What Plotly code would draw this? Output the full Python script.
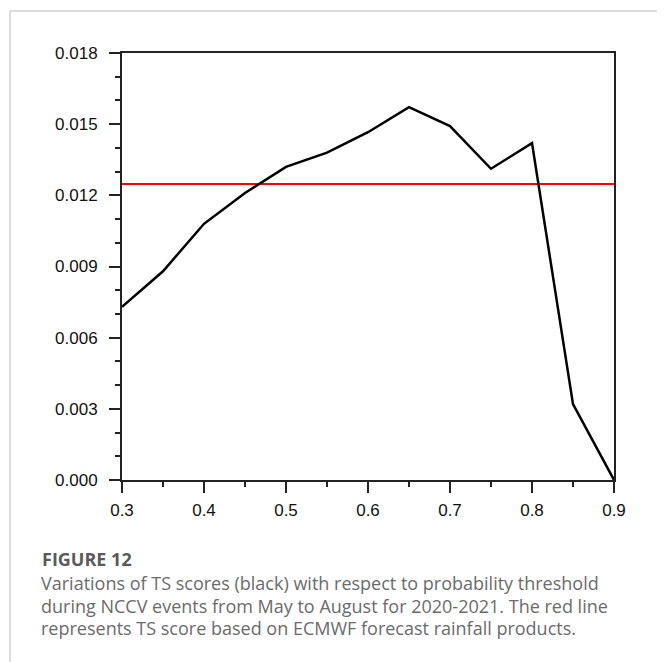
import plotly.graph_objects as go

thresholds = [0.3, 0.35, 0.4, 0.45, 0.5, 0.55, 0.6, 0.65, 0.7, 0.75, 0.8, 0.85, 0.9]
ts_scores = [0.0073, 0.0088, 0.0108, 0.0121, 0.0132, 0.0138, 0.01466, 0.01572, 0.01492, 0.01312, 0.0142, 0.0032, 0.0]
ecmwf_ts = 0.01248
x_ticks = [0.3, 0.4, 0.5, 0.6, 0.7, 0.8, 0.9]
y_ticks = [0.0, 0.003, 0.006, 0.009, 0.012, 0.015, 0.018]

caption_title = "FIGURE 12"
caption_lines = [
    "Variations of TS scores (black) with respect to probability threshold",
    "during NCCV events from May to August for 2020-2021. The red line",
    "represents TS score based on ECMWF forecast rainfall products.",
]

# page body has an 8px margin; figure is sized to fit the window
OFF = 8
W, H = 665 - OFF, 662 - OFF
# target plot-area box in window pixels
PL, PR, PT, PB = 122, 614, 53, 480
L, R, T, B = PL - OFF, W - (PR - OFF), PT - OFF, H - (PB - OFF)
pw, ph = W - L - R, H - T - B

def px_x(x):
    # window pixel -> paper coordinate
    return (x - OFF - L) / pw

def px_y(y):
    return (H - B - (y - OFF)) / ph

fig = go.Figure()
fig.add_trace(go.Scatter(
    x=[thresholds[0], thresholds[-1]], y=[ecmwf_ts, ecmwf_ts],
    mode="lines", line=dict(color="#ff0000", width=2), hoverinfo="skip", showlegend=False))
fig.add_trace(go.Scatter(
    x=thresholds, y=ts_scores, mode="lines",
    line=dict(color="#000000", width=2.5), showlegend=False))

axis_common = dict(
    showline=True, linecolor="#222222", linewidth=2, mirror=True,
    ticks="outside", ticklen=11, tickwidth=1.5, tickcolor="#222222",
    showgrid=False, zeroline=False,
    tickfont=dict(family="Liberation Sans, Arial, sans-serif", size=17, color="#111111"),
)

fig.update_xaxes(
    range=[0.3, 0.9], tickvals=x_ticks, ticktext=[f"{v:.1f}" for v in x_ticks],
    minor=dict(dtick=0.05, tick0=0.3, ticks="outside", ticklen=5, tickwidth=1.5, tickcolor="#222222"),
    ticklabelstandoff=3,
    **axis_common)
fig.update_yaxes(
    range=[0, 0.018], tickvals=y_ticks, ticktext=[f"{v:.3f}" for v in y_ticks],
    minor=dict(dtick=0.001, tick0=0, ticks="outside", ticklen=5, tickwidth=1.5, tickcolor="#222222"),
    ticklabelstandoff=8,
    **axis_common)

shapes = [
    dict(type="line", xref="paper", yref="paper",
         x0=px_x(10), x1=px_x(680), y0=px_y(11), y1=px_y(11),
         line=dict(color="#d0d0d0", width=1.5)),
    dict(type="line", xref="paper", yref="paper",
         x0=px_x(10), x1=px_x(10), y0=px_y(11), y1=px_y(680),
         line=dict(color="#d0d0d0", width=1.5)),
]

annotations = [dict(
    xref="paper", yref="paper", x=px_x(40), y=px_y(558.5), xanchor="left", yanchor="middle",
    text="<b>" + caption_title + "</b>", showarrow=False,
    font=dict(family="Open Sans, Lato, sans-serif", size=18, color="#5a5a5a"))]
for i, line in enumerate(caption_lines):
    annotations.append(dict(
        xref="paper", yref="paper", x=px_x(39), y=px_y(583 + 22.5 * i), xanchor="left", yanchor="middle",
        text=line, showarrow=False,
        font=dict(family="Open Sans, Lato, sans-serif", size=18, color="#6b6b6b")))

fig.update_layout(
    width=W, height=H, margin=dict(l=L, r=R, t=T, b=B),
    paper_bgcolor="white", plot_bgcolor="white",
    shapes=shapes, annotations=annotations, showlegend=False)

fig.write_html("out.html")
